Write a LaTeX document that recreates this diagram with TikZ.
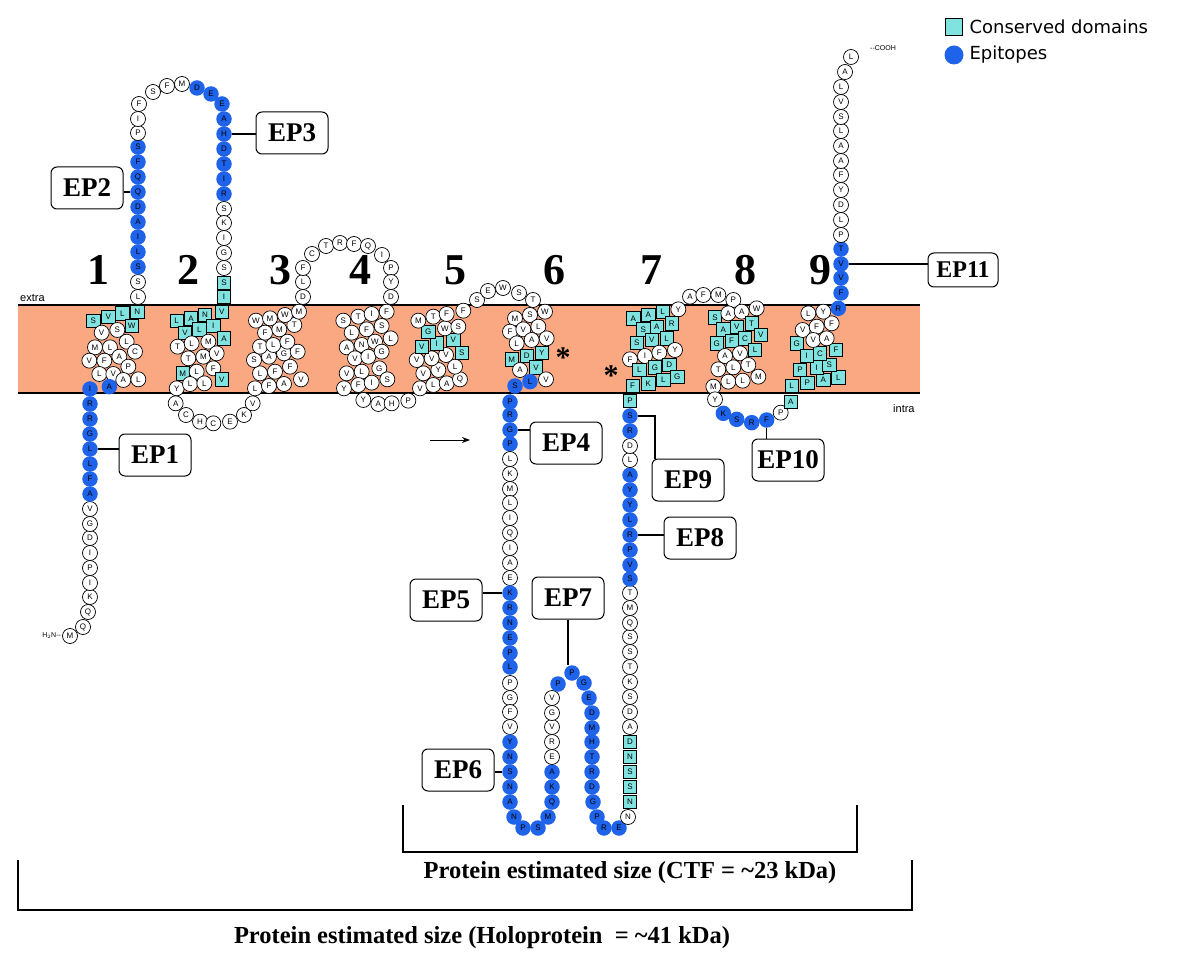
\documentclass[tikz,border=0pt]{standalone}
\usepackage{fontspec}
\setmainfont{Liberation Serif}
\newfontfamily\rsans{Liberation Sans}
\newfontfamily\lsans{DejaVu Sans}
\usetikzlibrary{arrows.meta}
\definecolor{memb}{HTML}{F9A882}
\definecolor{epi}{HTML}{1E63E9}
\definecolor{cons}{HTML}{80E3DF}
\newcommand\grp[5]{%
  \foreach \a/\b/\l/\t [count=\i] in {#5}{%
    \node[\t] (#1-\i) at ({#2+\a/#4},{#3+\b/#4}) {\l};}}
\begin{document}
\begin{tikzpicture}[x=1pt,y=-1pt,
  rw/.style={circle,draw,fill=white,line width=0.7pt,minimum size=15pt,inner sep=0pt,font=\rsans\fontsize{8}{8}\selectfont},
  rb/.style={circle,fill=epi,minimum size=15.5pt,inner sep=0pt,font=\rsans\fontsize{8}{8}\selectfont},
  rc/.style={rectangle,draw,fill=cons,line width=0.7pt,minimum size=13.5pt,inner sep=0pt,font=\rsans\fontsize{8}{8}\selectfont},
  ep/.style={draw,rounded corners=6pt,line width=1pt,minimum width=72pt,minimum height=42pt,font=\bfseries\fontsize{27}{27}\selectfont,fill=white},
  num/.style={font=\bfseries\fontsize{44}{44}\selectfont},
  lk/.style={line width=1.2pt},
  br/.style={line width=1.2pt}]
\path[use as bounding box] (0,0) rectangle (1178,965);
% membrane
\fill[memb] (18,305) rectangle (920,393);
\draw[line width=1.5pt] (18,305) -- (920,305) (18,393) -- (920,393);
\node[anchor=south west,font=\rsans\fontsize{11}{11}\selectfont,inner sep=0pt] (extra) at (20,302) {extra};
\node[anchor=north west,font=\rsans\fontsize{11}{11}\selectfont,inner sep=0pt] (intra) at (893,404) {intra};
% numbers
\foreach \x/\n in {98/1,188/2,280/3,360/4,455/5,554/6,651/7,745/8,820/9}
  \node[num] (n\n) at (\x,270) {\n};
% EP boxes
\node[ep] (EP1) at (155,455) {EP1};
\node[ep] (EP2) at (87,188) {EP2};
\node[ep] (EP3) at (292,133) {EP3};
\node[ep] (EP4) at (566,443) {EP4};
\node[ep] (EP5) at (446,600) {EP5};
\node[ep] (EP6) at (458,770) {EP6};
\node[ep] (EP7) at (568,598) {EP7};
\node[ep] (EP8) at (700,538) {EP8};
\node[ep] (EP9) at (688,480) {EP9};
\node[ep] (EP10) at (788,460) {EP10};
\node[ep,minimum width=70pt,minimum height=34pt,font=\bfseries\fontsize{24}{24}\selectfont] (EP11) at (963,270) {EP11};
% tail
\grp{t}{0}{0}{1}{70/636/M/rw,83/627/Q/rw,88/612/Q/rw,90/597/K/rw,90/583/I/rw,90/568/P/rw,90/553/I/rw,90/538/D/rw,90/524/G/rw,90/509/V/rw,90/494/A/rb,90/479/F/rb,90/464/L/rb,90/449/L/rb,90/434/G/rb,90/419/R/rb,90/404/R/rb,90/389/I/rb}
\node[anchor=east,font=\rsans\fontsize{7}{7}\selectfont,inner sep=1pt] (nterm) at (t-1.west) {H$_2$N--};
% EP2/EP3 loop
\grp{e}{0}{0}{1}{138/297/L/rw,138/282/S/rw,138/267/S/rb,138/252/L/rb,138/237/I/rb,138/222/A/rb,138/207/D/rb,138/192/Q/rb,138/177/Q/rb,138/162/F/rb,138/147/S/rb,138/133/P/rw,138/119/I/rw,139/104/F/rw,153/92/S/rw,167/86/F/rw,182/84/M/rw,197/88/D/rb,211/94/E/rb,222/104/E/rb,224/119/A/rb,224/134/H/rb,224/149/D/rb,224/164/T/rb,224/179/I/rb,224/194/R/rb,224/209/S/rw,224/223/K/rw,224/238/I/rw,224/253/G/rw,224/268/S/rw,224/283/S/rc,224/297/I/rc}
% helices 1-5
\grp{g}{80}{290}{3}{40/92/S/rc,85/80/V/rc,127/70/L/rc,172/65/N/rc,155/107/W/rc,65/128/V/rw,112/120/S/rw,45/172/M/rw,90/172/L/rw,140/155/L/rw,28/212/V/rw,73/212/F/rw,118/200/A/rw,165/185/C/rw,58/252/L/rw,100/252/V/rw,145/230/P/rw,130/270/A/rw,175/268/L/rw,88/290/A/rb,
375/75/N/rc,425/65/V/rc,290/92/L/rc,333/85/A/rc,315/128/V/rc,358/118/L/rc,400/108/I/rc,432/145/A/rc,293/170/T/rw,335/160/L/rw,385/155/M/rw,325/205/T/rw,370/200/M/rw,410/190/V/rw,308/250/M/rc,350/245/L/rw,400/235/F/rw,290/295/Y/rw,330/282/L/rw,373/280/L/rw,425/268/V/rc,287/340/A/rw,318/375/C/rw,360/395/H/rw,400/400/C/rw,450/395/E/rw,492/375/K/rw,518/340/V/rw,
525/295/L/rw,567/288/F/rw,612/282/A/rw,663/268/V/rw,540/250/L/rw,585/245/F/rw,630/230/F/rw,522/210/S/rw,567/200/A/rw,612/190/G/rw,653/185/F/rw,540/170/T/rw,580/165/L/rw,622/155/F/rw,555/128/F/rw,598/118/M/rw,643/105/T/rw,528/92/W/rw,570/85/M/rw,615/75/W/rw,657/65/M/rw,
920/65/F/rw,790/92/S/rw,835/80/T/rw,875/72/I/rw,905/108/S/rw,815/128/L/rw,860/118/F/rw,932/145/L/rw,800/172/A/rw,845/165/N/rw,885/155/W/rw,825/205/V/rw,865/200/I/rw,905/185/G/rw,800/250/V/rw,845/245/L/rw,898/235/G/rw,792/295/Y/rw,835/285/F/rw,875/278/I/rw,922/268/S/rw,850/330/Y/rw,895/342/A/rw,935/340/H/rw,985/332/P/rw,
1020/295/V/rw,1060/285/L/rw,1100/280/A/rw,1140/268/Q/rw,1030/250/V/rw,1075/240/Y/rw,1125/230/L/rw,1010/210/V/rw,1055/205/V/rw,1098/195/V/rw,1145/188/S/rc,1025/170/V/rc,1070/160/I/rc,1120/150/V/rc,1045/125/G/rc,1095/115/W/rw,1135/110/S/rw,1015/92/M/rw,1060/80/T/rw,1100/72/F/rw,1150/62/F/rw}
% loop 3-4 and 5-6
\grp{l}{0}{0}{1}{303/297/D/rw,303/282/L/rw,303/268/F/rw,312/254/C/rw,326/246/T/rw,340/243/R/rw,354/244/F/rw,368/246/Q/rw,382/255/I/rw,391/268/P/rw,391/282/Y/rw,391/297/D/rw,
477/300/S/rw,488/291/E/rw,503/288/W/rw,519/293/S/rw,533/300/T/rw}
% helices 6-9
\grp{h}{470}{280}{3}{135/115/M/rw,180/105/S/rw,225/95/W/rw,120/155/F/rw,160/148/V/rw,205/140/L/rw,140/190/L/rw,185/180/A/rw,230/175/V/rw,125/238/M/rc,170/228/D/rc,215/218/Y/rc,150/270/A/rw,198/262/V/rc,228/298/V/rw,180/305/L/rb,135/318/S/rb,
490/115/A/rc,535/105/A/rc,578/95/L/rc,625/88/Y/rw,520/148/S/rc,560/140/A/rc,605/130/R/rc,500/188/S/rc,545/180/V/rc,590/175/L/rc,480/238/F/rw,525/228/I/rw,568/218/F/rw,615/210/Y/rw,508/270/L/rc,555/262/G/rc,598/255/D/rc,488/318/F/rc,535/310/K/rc,580/300/L/rc,622/290/G/rc,
660/50/A/rw,700/45/F/rw,745/45/M/rw,790/60/P/rw,
735/112/S/rc,775/100/A/rw,815/95/A/rw,860/85/W/rw,760/148/A/rc,800/140/V/rc,845/130/T/rc,740/190/G/rc,785/182/F/rc,825/175/C/rc,872/165/V/rc,855/210/L/rc,765/228/A/rw,810/220/V/rw,745/268/T/rw,790/262/L/rw,835/255/T/rw,730/320/M/rw,775/305/L/rw,818/302/L/rw,865/290/M/rw,
965/318/L/rc,1012/308/P/rc,1060/300/A/rc,1105/292/L/rc,990/270/P/rc,1040/262/I/rc,1078/255/S/rc,980/190/G/rc,1010/228/I/rc,1050/220/C/rc,1098/210/F/rc,998/150/V/rw,1040/140/F/rw,1085/130/F/rw,1030/180/V/rw,1070/175/A/rw,1015/100/L/rw,1060/95/Y/rw,1105/85/R/rb}
\grp{lb}{470}{280}{3}{735/358/Y/rw,760/400/K/rb,800/418/S/rb,845/428/R/rb,890/420/F/rb,932/398/P/rw,962/365/A/rc}
% long cytoplasmic loop
\grp{k}{0}{0}{1}{510/402/P/rb,510/415/R/rb,510/430/G/rb,510/444/P/rb,510/459/L/rw,510/474/K/rw,510/489/M/rw,510/503/L/rw,510/518/I/rw,510/533/Q/rw,510/548/I/rw,510/563/A/rw,510/578/E/rw,510/593/K/rb,510/608/R/rb,510/623/N/rb,510/638/E/rb,510/653/P/rb,510/667/L/rb,510/683/P/rw,510/698/G/rw,510/712/F/rw,510/727/V/rw,510/742/Y/rb,510/757/N/rb,510/772/S/rb,510/787/N/rb,510/802/A/rb,514/817/N/rb,523/828/P/rb,538/828/S/rb,548/817/M/rb,552/802/Q/rb,552/787/K/rb,552/772/A/rb,552/757/E/rw,552/742/R/rw,552/727/V/rw,552/713/G/rw,552/698/V/rw,558/684/P/rb,572/673/P/rb,584/683/G/rb,589/698/E/rb,592/713/D/rb,592/728/M/rb,592/742/H/rb,592/757/T/rb,592/772/R/rb,592/787/D/rb,593/802/G/rb,597/817/P/rb,604/828/R/rb,619/828/E/rb,628/817/N/rw,630/802/N/rc,630/787/S/rc,630/772/S/rc,630/757/N/rc,630/742/D/rc,630/727/A/rw,630/712/D/rw,630/697/S/rw,630/682/K/rw,630/667/T/rw,630/652/S/rw,630/637/S/rw,630/623/Q/rw,630/608/M/rw,630/593/T/rw,630/579/S/rb,630/565/V/rb,630/550/P/rb,630/535/R/rb,630/520/L/rb,630/505/Y/rb,630/490/Y/rb,630/475/A/rb,630/460/L/rw,630/446/D/rw,630/431/R/rb,630/416/S/rb,630/401/P/rc}
% C-terminus
\grp{ct}{0}{0}{1}{841/293/F/rb,841/278/V/rb,841/264/V/rb,841/249/T/rb,841/235/P/rw,841/220/L/rw,841/205/D/rw,841/190/Y/rw,841/175/F/rw,841/161/A/rw,841/146/A/rw,841/131/L/rw,841/117/S/rw,841/102/V/rw,841/87/L/rw,845/72/A/rw,851/57/L/rw}
\node[anchor=west,font=\rsans\fontsize{7}{7}\selectfont,inner sep=0pt] (cooh) at (870,48) {--COOH};
% EP connectors
\draw[lk] (t-14.east) -- (t-14.east -| EP1.west);
\draw[lk] (e-8.west) -- (e-8.west -| EP2.east);
\draw[lk] (e-22.east) -- (e-22.east -| EP3.west);
\draw[lk] (k-3.east) -- (k-3.east -| EP4.west);
\draw[lk] (k-14.west) -- (k-14.west -| EP5.east);
\draw[lk] (k-26.west) -- (k-26.west -| EP6.east);
\draw[lk] (EP7.south) -- (EP7.south |- k-42.north);
\draw[lk] (k-74.east) -- (k-74.east -| EP8.west);
\draw[lk] (k-82.east) -| (EP9.north -| 655,0);
\draw[lk] (lb-5.south) -- (lb-5.south |- EP10.north);
\draw[lk] (ct-3.east) -- (ct-3.east -| EP11.west);
% asterisks and arrow
\node[font=\bfseries\fontsize{30}{30}\selectfont] (ast1) at (563,358) {*};
\node[font=\bfseries\fontsize{30}{30}\selectfont] (ast2) at (611,376) {*};
\coordinate (ar1) at (430,440); \coordinate (ar2) at (470,440);
\draw[line width=1pt,-{Stealth[length=8pt]}] (ar1) -- (ar2);
% legend
\node[rc,minimum size=17pt] (lg1) at (954,27) {};
\node[circle,fill=epi,minimum size=19pt,inner sep=0pt] (lg2) at (954,55) {};
\node[anchor=west,font=\lsans\fontsize{18}{18}\selectfont] (lt1) at (966,27) {Conserved domains};
\node[anchor=west,font=\lsans\fontsize{18}{18}\selectfont] (lt2) at (966,55) {Epitopes};
% brackets
\draw[br] (403,805) -- (403,852) -- (857,852) -- (857,805);
\node[font=\bfseries\fontsize{24.5}{24.5}\selectfont] (b1) at (630,873) {Protein estimated size (CTF = \textasciitilde 23 kDa)};
\draw[br] (18,860) -- (18,910) -- (912,910) -- (912,860);
\node[font=\bfseries\fontsize{24.5}{24.5}\selectfont] (b2) at (482,938) {Protein estimated size (Holoprotein\ \ = \textasciitilde 41 kDa)};
\end{tikzpicture}
\end{document}
